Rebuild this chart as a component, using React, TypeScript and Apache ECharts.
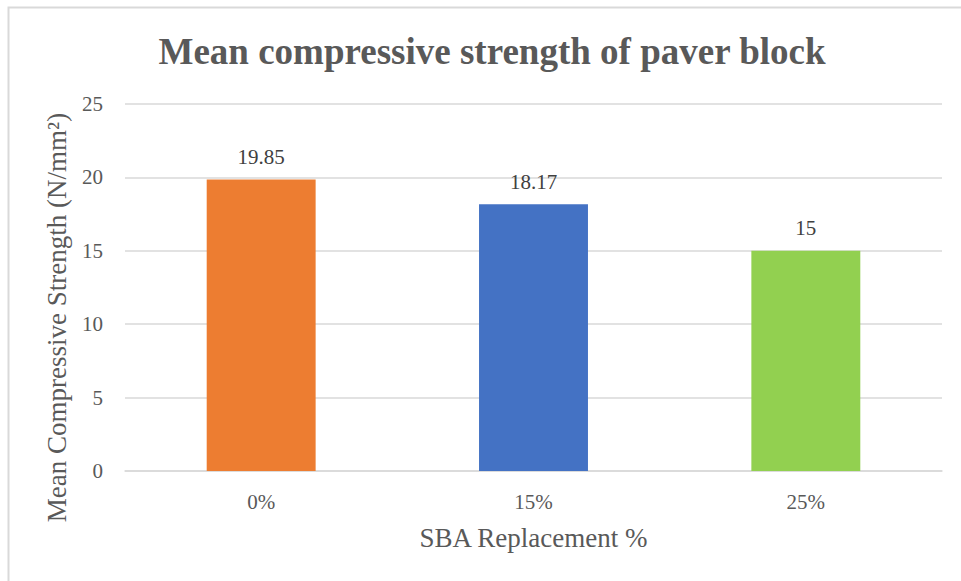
import React, { useEffect, useRef } from "react";
import * as echarts from "echarts";

const categories = ["0%", "15%", "25%"];
const values = [19.85, 18.17, 15];
const barColors = ["#ED7D31", "#4472C4", "#92D050"];
const yTicks = [0, 5, 10, 15, 20, 25];

export default function App() {
  const ref = useRef<HTMLDivElement>(null);
  useEffect(() => {
    document.body.style.margin = "0";
    const chart = echarts.init(ref.current!, null, { renderer: "svg" });
    const font = "Liberation Serif";
    chart.setOption({
      animation: false,
      backgroundColor: "#ffffff",
      textStyle: { fontFamily: font },
      title: {
        text: "Mean compressive strength of paver block",
        left: 487,
        textAlign: "center",
        top: 28,
        textStyle: { fontFamily: font, fontSize: 37, fontWeight: "bold", color: "#595959" },
      },
      graphic: [
        {
          type: "rect",
          shape: { x: 8.5, y: 7.5, width: 1000, height: 1000 },
          style: { fill: "none", stroke: "#d9d9d9", lineWidth: 2 },
          silent: true,
        },
      ],
      grid: { left: 125, right: 19, top: 104, bottom: 110 },
      xAxis: {
        type: "category",
        data: categories,
        name: "SBA Replacement %",
        nameLocation: "middle",
        nameGap: 53,
        nameTextStyle: { fontFamily: font, fontSize: 27, color: "#595959" },
        axisLine: { show: true, lineStyle: { color: "#d9d9d9", width: 1.5 } },
        axisTick: { show: false },
        axisLabel: { fontFamily: font, fontSize: 21, color: "#595959", margin: 20 },
      },
      yAxis: {
        type: "value",
        min: yTicks[0],
        max: yTicks[yTicks.length - 1],
        interval: 5,
        name: "Mean Compressive Strength (N/mm²)",
        nameLocation: "middle",
        nameGap: 55,
        nameRotate: 90,
        nameTextStyle: { fontFamily: font, fontSize: 27, color: "#595959", padding: [0, 60, 0, 0] },
        axisLine: { show: false },
        axisTick: { show: false },
        axisLabel: { fontFamily: font, fontSize: 21, color: "#595959", margin: 22 },
        splitLine: { lineStyle: { color: "#d9d9d9", width: 1.5 } },
      },
      series: [
        {
          type: "bar",
          barWidth: "40%",
          data: values.map((v, i) => ({ value: v, itemStyle: { color: barColors[i] } })),
          label: {
            show: true,
            position: "top",
            distance: 12,
            fontFamily: font,
            fontSize: 21,
            color: "#404040",
          },
        },
      ],
    });
    return () => chart.dispose();
  }, []);
  return (
    <div
      ref={ref}
      style={{ position: "fixed", left: 0, top: 0, width: 961, height: 581 }}
    />
  );
}
